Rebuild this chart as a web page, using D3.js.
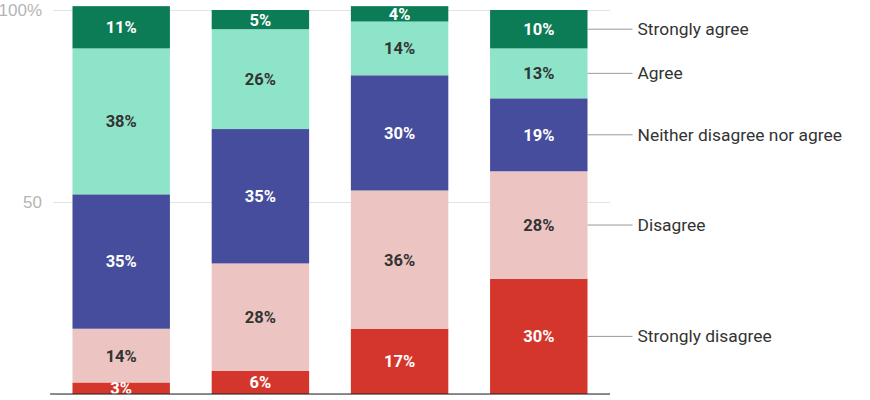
<!DOCTYPE html>
<html>
<head>
<meta charset="utf-8">
<script src="https://cdn.jsdelivr.net/npm/d3@7"></script>
<style>
  html, body { margin: 0; padding: 0; background: #fff; }
  svg { display: block; font-family: Roboto, "Noto Sans", sans-serif; }
</style>
</head>
<body>
<div id="chart"></div>
<script>
// four survey groups (no visible names in the picture)
const groups = ["A", "B", "C", "D"];
const answers = ["Strongly disagree", "Disagree", "Neither disagree nor agree", "Agree", "Strongly agree"];

// percentages per answer, one value per group
const stronglyDisagree = [3, 6, 17, 30];
const disagree = [14, 28, 36, 28];
const neither = [35, 35, 30, 19];
const agree = [38, 26, 14, 13];
const stronglyAgree = [11, 5, 4, 10];

const yTicks = [0, 50, 100];
const yTickLabels = ["", "50", "100%"];

const colors = ["#d5362b", "#ecc4c2", "#464d9c", "#8ee4c9", "#0b7c55"];
const labelColors = ["#fff", "#333", "#fff", "#333", "#fff"];

const width = 870, height = 400;
const margin = {top: 10, right: 260, bottom: 6, left: 53};
const plotRight = 610;

const svg = d3.select("#chart")
    .append("svg")
    .attr("width", width)
    .attr("height", height);

const rows = groups.map((g, i) => ({
    group: g,
    "Strongly disagree": stronglyDisagree[i],
    "Disagree": disagree[i],
    "Neither disagree nor agree": neither[i],
    "Agree": agree[i],
    "Strongly agree": stronglyAgree[i]
}));

const series = d3.stack().keys(answers)(rows);

const x = d3.scaleBand()
    .domain(groups)
    .range([margin.left, 607])
    .paddingInner(0.3)
    .paddingOuter(0.14);

const y = d3.scaleLinear()
    .domain([0, 100])
    .range([height - margin.bottom, margin.top]);

// gridlines + tick labels
const yAxis = svg.append("g")
    .attr("transform", `translate(${margin.left},0)`)
    .call(d3.axisLeft(y).tickValues(yTicks).tickSize(-(plotRight - margin.left)).tickFormat((d, i) => yTickLabels[i]));
yAxis.select(".domain").remove();
yAxis.selectAll(".tick line").attr("stroke", "#e3e3e3");
yAxis.selectAll(".tick text")
    .attr("x", -11)
    .attr("fill", "#b5b5b5")
    .style("font-size", "17px");

// bars
const layer = svg.selectAll(".layer")
    .data(series)
    .enter().append("g")
    .attr("class", "layer")
    .attr("fill", (d, i) => colors[i]);

layer.selectAll("rect")
    .data(d => d)
    .enter().append("rect")
    .attr("x", d => x(d.data.group))
    .attr("y", d => y(d[1]))
    .attr("width", x.bandwidth())
    .attr("height", d => y(d[0]) - y(d[1]));

// value labels
series.forEach((s, k) => {
    svg.append("g").selectAll("text")
        .data(s)
        .enter().append("text")
        .attr("x", d => x(d.data.group) + x.bandwidth() / 2)
        .attr("y", d => y((d[0] + d[1]) / 2))
        .attr("dy", "0.36em")
        .attr("text-anchor", "middle")
        .attr("fill", labelColors[k])
        .style("font-size", "16.5px")
        .style("font-weight", "bold")
        .text(d => (d[1] - d[0]) + "%");
});

// baseline
svg.append("line")
    .attr("x1", margin.left - 3)
    .attr("x2", plotRight)
    .attr("y1", y(0))
    .attr("y2", y(0))
    .attr("stroke", "#222")
    .attr("stroke-width", 1.2);

// direct labels next to the last bar
const last = groups[groups.length - 1];
const barEnd = x(last) + x.bandwidth();
series.forEach(s => {
    const d = s.find(v => v.data.group === last);
    const cy = y((d[0] + d[1]) / 2);
    svg.append("line")
        .attr("x1", barEnd)
        .attr("x2", barEnd + 45)
        .attr("y1", cy)
        .attr("y2", cy)
        .attr("stroke", "#999");
    svg.append("text")
        .attr("x", barEnd + 50)
        .attr("y", cy)
        .attr("dy", "0.35em")
        .attr("fill", "#333")
        .style("font-size", "17.4px")
        .text(s.key);
});
</script>
</body>
</html>
